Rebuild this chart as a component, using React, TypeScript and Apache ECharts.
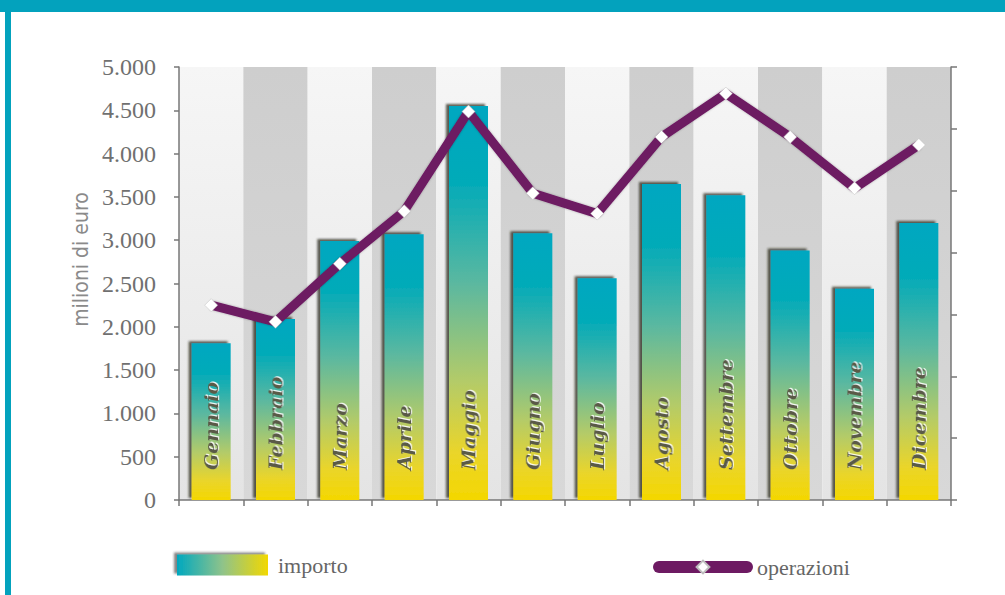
import React, { useEffect, useRef } from "react";
import * as echarts from "echarts";

const months = [
  "Gennaio", "Febbraio", "Marzo", "Aprile", "Maggio", "Giugno",
  "Luglio", "Agosto", "Settembre", "Ottobre", "Novembre", "Dicembre",
];
// milioni di euro (asse sinistro)
const importo = [1810, 2090, 2990, 3070, 4550, 3080, 2560, 3650, 3520, 2880, 2440, 3200];
// operazioni (asse destro, senza etichette)
const operazioni = [3150, 2880, 3820, 4670, 6280, 4960, 4630, 5870, 6570, 5870, 5040, 5740];

const leftMax = 5000;
const leftStep = 500;
const rightMax = 7000;
const rightStep = 1000;

const fmt = (v: number) => String(v).replace(/\B(?=(\d{3})+(?!\d))/g, ".");

export default function App() {
  const ref = useRef<HTMLDivElement>(null);

  useEffect(() => {
    if (!ref.current) return;
    const chart = echarts.init(ref.current, undefined, { renderer: "svg" });

    const barGrad = new echarts.graphic.LinearGradient(0, 0, 0, 1, [
      { offset: 0, color: "#00a7c1" },
      { offset: 0.2, color: "#05abb8" },
      { offset: 0.45, color: "#5bb8a0" },
      { offset: 0.7, color: "#b4cb68" },
      { offset: 0.88, color: "#ead52a" },
      { offset: 1, color: "#f4d700" },
    ]);
    const legendGrad = new echarts.graphic.LinearGradient(0, 0, 1, 0, [
      { offset: 0, color: "#00a8bf" },
      { offset: 0.5, color: "#8fc38a" },
      { offset: 1, color: "#f2d800" },
    ]);
    const lightStripe = new echarts.graphic.LinearGradient(0, 0, 0, 1, [
      { offset: 0, color: "#f6f6f6" },
      { offset: 1, color: "#e4e4e4" },
    ]);
    const grayStripe = new echarts.graphic.LinearGradient(0, 0, 0, 1, [
      { offset: 0, color: "#cecece" },
      { offset: 1, color: "#d8d8d8" },
    ]);

    const axisColor = "#777777";

    chart.setOption({
      animation: false,
      backgroundColor: "#ffffff",
      graphic: [
        { type: "rect", shape: { x: 0, y: 0, width: 1005, height: 12 }, style: { fill: "#03a2bd" }, silent: true },
        { type: "rect", shape: { x: 5, y: 0, width: 6, height: 595 }, style: { fill: "#03a2bd" }, silent: true },
      ],
      grid: { left: 179, right: 54, top: 67, bottom: 95, containLabel: false },
      legend: [
        {
          data: [
            {
              name: "importo",
              icon: "rect",
              itemStyle: {
                color: legendGrad,
                shadowColor: "rgba(50,50,50,0.6)",
                shadowOffsetX: -3,
                shadowOffsetY: -2,
                shadowBlur: 2,
              },
            },
          ],
          left: 177,
          top: 554,
          padding: 0,
          itemWidth: 91,
          itemHeight: 21,
          selectedMode: false,
          textStyle: { fontFamily: "Liberation Serif", fontSize: 22, color: "#666666", padding: [0, 0, 0, 5] },
        },
        {
          data: [{ name: "operazioni" }],
          left: 653,
          top: 556,
          padding: 0,
          itemWidth: 88,
          itemHeight: 16,
          selectedMode: false,
          lineStyle: { width: 12, cap: "round", color: "#6d1a62" },
          textStyle: { fontFamily: "Liberation Serif", fontSize: 22, color: "#666666", padding: [0, 0, 0, 5] },
        },
      ],
      xAxis: {
        type: "category",
        data: months,
        boundaryGap: true,
        axisLine: { show: true, lineStyle: { color: axisColor, width: 1.5 } },
        axisTick: { show: true, interval: 0, length: 6, lineStyle: { color: axisColor, width: 1.5 } },
        axisLabel: { show: false, interval: 0 },
        splitLine: { show: false },
        splitArea: { show: true, interval: 0, areaStyle: { color: [lightStripe, grayStripe] } },
      },
      yAxis: [
        {
          type: "value",
          min: 0,
          max: leftMax,
          interval: leftStep,
          position: "left",
          name: "milioni di euro",
          nameLocation: "middle",
          nameGap: 84,
          nameTextStyle: {
            fontFamily: "DejaVu Sans Condensed, DejaVu Sans",
            fontSize: 21,
            color: "#8a8a8a",
            padding: [0, 0, 0, 48],
          },
          axisLine: { show: true, lineStyle: { color: axisColor, width: 1.5 } },
          axisTick: { show: true, length: 5, lineStyle: { color: axisColor, width: 1.5 } },
          axisLabel: {
            margin: 23,
            fontFamily: "Liberation Serif",
            fontSize: 24,
            color: "#707070",
            formatter: (v: number) => fmt(v),
          },
          splitLine: { show: false },
        },
        {
          type: "value",
          min: 0,
          max: rightMax,
          interval: rightStep,
          position: "right",
          axisLine: { show: true, lineStyle: { color: axisColor, width: 1.5 } },
          axisTick: { show: true, length: 6, lineStyle: { color: axisColor, width: 1.5 } },
          axisLabel: { show: false },
          splitLine: { show: false },
        },
      ],
      series: [
        {
          name: "importo",
          type: "bar",
          yAxisIndex: 0,
          data: importo,
          barWidth: 39,
          itemStyle: {
            color: barGrad,
            shadowColor: "rgba(40,40,30,0.75)",
            shadowOffsetX: -3,
            shadowOffsetY: -2,
            shadowBlur: 2,
          },
          label: {
            show: true,
            position: "insideBottom",
            distance: 30,
            rotate: 90,
            align: "left",
            verticalAlign: "middle",
            formatter: (p: any) => p.name,
            fontFamily: "DejaVu Serif",
            fontStyle: "italic",
            fontWeight: "bold",
            fontSize: 19,
            color: "#5a5a46",
            textShadowColor: "rgba(255,255,255,0.9)",
            textShadowOffsetX: 1,
            textShadowOffsetY: 1,
            textShadowBlur: 1,
          },
        },
        {
          name: "operazioni",
          type: "line",
          yAxisIndex: 1,
          data: operazioni,
          symbol: "diamond",
          symbolSize: 13,
          showAllSymbol: true,
          z: 5,
          lineStyle: {
            color: "#6d1a62",
            width: 9,
            shadowColor: "rgba(0,0,0,0.3)",
            shadowBlur: 2,
          },
          itemStyle: {
            color: "#ffffff",
            borderColor: "#bdbdbd",
            borderWidth: 0.5,
          },
        },
      ],
    });

    return () => chart.dispose();
  }, []);

  return (
    <div
      ref={ref}
      style={{ position: "fixed", left: 0, top: 0, width: 1005, height: 595 }}
    />
  );
}
